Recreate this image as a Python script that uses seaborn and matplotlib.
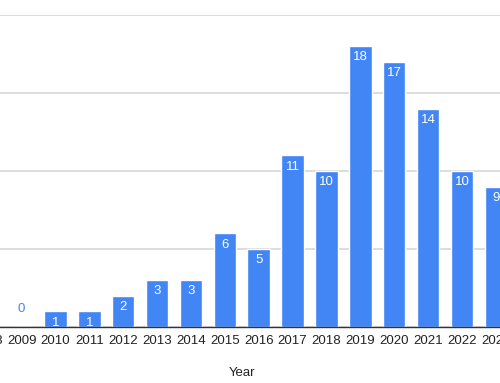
import matplotlib
matplotlib.use("Agg")
import matplotlib.pyplot as plt
import seaborn as sns
import pandas as pd

# Data (2008 is only hinted at by a clipped tick label)
years = ["2008", "2009", "2010", "2011", "2012", "2013", "2014", "2015",
         "2016", "2017", "2018", "2019", "2020", "2021", "2022", "2023"]
counts = [0, 0, 1, 1, 2, 3, 3, 6, 5, 11, 10, 18, 17, 14, 10, 9]

BAR_COLOR = "#4285F4"

df = pd.DataFrame({"Year": years, "Count": counts})

sns.set_theme(style="white")
plt.rcParams["font.family"] = ["Liberation Sans", "DejaVu Sans"]

fig = plt.figure(figsize=(5.0, 3.83), dpi=100)
# the reference is a crop of a wider chart, so the axes run past the figure edges
ax = fig.add_axes([-0.0584, 0.1462, 1.0838, 0.8146])

sns.barplot(data=df, x="Year", y="Count", color=BAR_COLOR, saturation=1,
            width=0.664, ax=ax)

ax.set_ylim(0, 20)
ax.set_xlim(-0.5, len(years) - 0.5)
ax.set_yticks([0, 5, 10, 15, 20])
ax.yaxis.grid(True, color="#dddddd", linewidth=1.4)
ax.set_axisbelow(True)
ax.set_yticklabels([])
ax.tick_params(axis="y", length=0)
ax.tick_params(axis="x", length=0, labelsize=9.5, colors="#222222", pad=6)

for side in ["top", "right", "left"]:
    ax.spines[side].set_visible(False)
ax.spines["bottom"].set_color("#333333")
ax.spines["bottom"].set_linewidth(1.0)

ax.set_ylabel("")
ax.set_xlabel("Year", fontsize=9.5, color="#222222", labelpad=14)

# data labels: inside the bar top, or above it in blue when the bar is empty
for i, v in enumerate(counts):
    if v > 0:
        ax.annotate(str(v), (i, v), xytext=(0, -8), textcoords="offset points",
                    ha="center", va="center", color="white", fontsize=9.5)
    else:
        ax.annotate(str(v), (i, v), xytext=(0, 13), textcoords="offset points",
                    ha="center", va="center", color=BAR_COLOR, fontsize=9.5)

fig.savefig("out.png", dpi=100)
